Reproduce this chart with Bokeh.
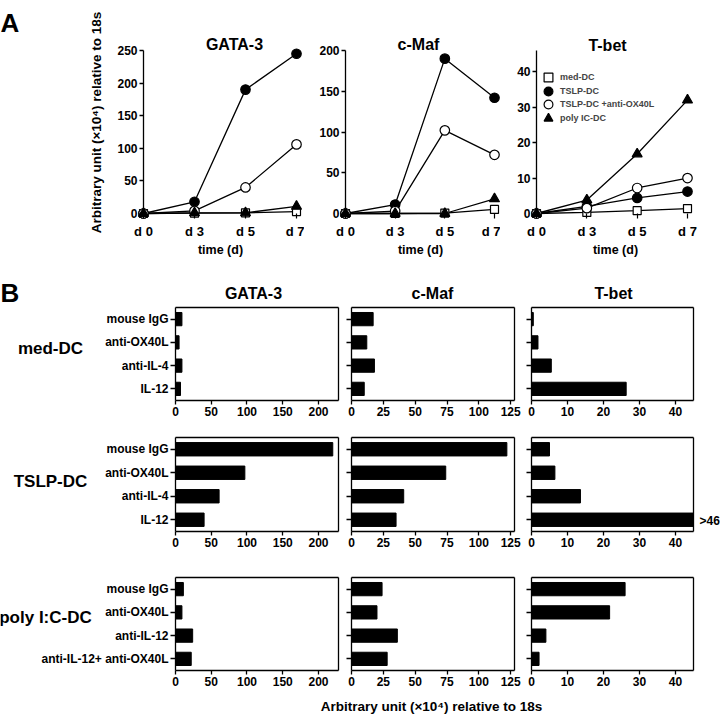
import math
from bokeh.plotting import figure
from bokeh.layouts import column, row
from bokeh.models import FixedTicker, Label, Legend, LegendItem, Range1d, LinearAxis
from bokeh.embed import file_html
from bokeh.resources import INLINE

FONT = "Liberation Sans"

# ---------------- Panel A data ----------------
days = ["d 0", "d 3", "d 5", "d 7"]
series_labels = ["med-DC", "TSLP-DC", "TSLP-DC +anti-OX40L", "poly IC-DC"]

gata3_med_dc = [0, 0.5, 1, 3]
gata3_tslp_dc = [0, 18, 190, 245]
gata3_tslp_dc_ox40l = [0, 4, 40, 106]
gata3_polyic_dc = [0, 1, 1, 11]

cmaf_med_dc = [0, 0, 0.5, 5]
cmaf_tslp_dc = [0, 11, 190, 142]
cmaf_tslp_dc_ox40l = [0, 3, 102, 72]
cmaf_polyic_dc = [0, 0, 0, 18]

tbet_med_dc = [0, 0.3, 0.8, 1.4]
tbet_tslp_dc = [0, 2, 4.4, 6.2]
tbet_tslp_dc_ox40l = [0, 1.5, 7.2, 10]
tbet_polyic_dc = [0, 3.8, 16.8, 32]

gata3_yticks = [0, 50, 100, 150, 200, 250]
cmaf_yticks = [0, 50, 100, 150, 200]
tbet_yticks = [0, 10, 20, 30, 40]
gata3_ytop = 250
cmaf_ytop = 200
tbet_ytop = 46

# ---------------- Panel B data ----------------
genes = ["GATA-3", "c-Maf", "T-bet"]
dc_types = ["med-DC", "TSLP-DC", "poly I:C-DC"]
med_dc_conditions = ["mouse IgG", "anti-OX40L", "anti-IL-4", "IL-12"]
tslp_dc_conditions = ["mouse IgG", "anti-OX40L", "anti-IL-4", "IL-12"]
polyic_dc_conditions = ["mouse IgG", "anti-OX40L", "anti-IL-12", "anti-IL-12+ anti-OX40L"]

med_dc_gata3 = [9, 5, 9, 7]
med_dc_cmaf = [17, 12, 18, 10]
med_dc_tbet = [0.5, 1.8, 5.5, 26.3]
tslp_dc_gata3 = [220, 97, 61, 40]
tslp_dc_cmaf = [122, 74, 41, 35]
tslp_dc_tbet = [5, 6.5, 13.6, 46]
polyic_dc_gata3 = [11, 9, 24, 22]
polyic_dc_cmaf = [24, 20, 36, 28]
polyic_dc_tbet = [26, 21.7, 4, 2.1]

gata3_xticks = [0, 50, 100, 150, 200]
cmaf_xticks = [0, 25, 50, 75, 100, 125]
tbet_xticks = [0, 10, 20, 30, 40]
gata3_xmax = 228
cmaf_xmax = 128
tbet_xmax = 45
tbet_overflow_label = ">46"
axis_title = "Arbitrary unit (\u00d710\u2074) relative to 18s"

# ---------------- helpers ----------------
def full_fig(x0, x1, y0, y1, x_range, y_range):
    """Figure whose frame fills its whole box (page pixels x0..x1, y0..y1)."""
    p = figure(frame_width=x1 - x0, frame_height=y1 - y0,
               min_border_left=0, min_border_right=0,
               min_border_top=0, min_border_bottom=0,
               x_range=x_range, y_range=y_range,
               output_backend="svg", toolbar_location=None)
    p.grid.visible = False
    p.outline_line_color = None
    p.background_fill_color = "white"
    p.border_fill_color = "white"
    return p


def page_label(fig, box, text, px, py, size, align="center",
               baseline="middle", angle=0.0):
    x0, y1 = box
    fig.add_layout(Label(x=px - x0, y=y1 - py, x_units="screen", y_units="screen",
                         text=text, text_font=FONT, text_font_size=f"{size}px",
                         text_font_style="bold", text_color="black",
                         text_align=align, text_baseline=baseline, angle=angle))


def style_labels(ax, size):
    ax.major_label_text_font = FONT
    ax.major_label_text_font_style = "bold"
    ax.major_label_text_font_size = f"{size}px"
    ax.major_label_text_color = "black"


def style_axis(ax, tick_out, standoff, width=1.3):
    ax.axis_line_width = width
    ax.major_tick_line_width = width
    ax.major_tick_out = tick_out
    ax.major_tick_in = 0
    ax.minor_tick_out = 0
    ax.minor_tick_in = 0
    ax.major_label_standoff = standoff


# ---------------- Panel A ----------------
A_Y0, A_Y1 = 0, 262
A_ZERO, A_AXTOP = 213, 50

marker_styles = [
    dict(marker="square", size=8, fill_color="white"),
    dict(marker="circle", size=9.5, fill_color="black"),
    dict(marker="circle", size=9.5, fill_color="white"),
    dict(marker="triangle", size=10, fill_color="black"),
]


def line_panel(series, yticks, ytop, fx0, fx1, x_first, x_last):
    nseg = len(days) - 1
    px_x = (x_last - x_first) / nseg
    px_y = (A_ZERO - A_AXTOP) / ytop
    xr = Range1d((fx0 - x_first) / px_x, (fx1 - x_first) / px_x)
    yr = Range1d((A_ZERO - A_Y1) / px_y, (A_ZERO - A_Y0) / px_y)
    p = full_fig(fx0, fx1, A_Y0, A_Y1, xr, yr)
    xs = list(range(len(days)))
    scat = []
    for ys in series:
        p.line(xs, ys, line_color="black", line_width=1.3)
    for ys, st in zip(series, marker_styles):
        scat.append(p.scatter(xs, ys, line_color="black", line_width=1.2, **st))
    ya = p.yaxis[0]
    ya.fixed_location = 0
    ya.bounds = (0, ytop)
    ya.ticker = FixedTicker(ticks=yticks)
    style_axis(ya, 4, 2)
    style_labels(ya, 12)
    xa = p.xaxis[0]
    xa.fixed_location = 0
    xa.bounds = (0, nseg)
    xa.ticker = FixedTicker(ticks=xs)
    xa.major_label_overrides = {i: d for i, d in enumerate(days)}
    style_axis(xa, 5, 5, 1.2)
    xa.axis_line_color = None
    style_labels(xa, 13)
    return p, scat


a1, _ = line_panel([gata3_med_dc, gata3_tslp_dc, gata3_tslp_dc_ox40l, gata3_polyic_dc],
                   gata3_yticks, gata3_ytop, 0, 304, 143, 296)
a2, _ = line_panel([cmaf_med_dc, cmaf_tslp_dc, cmaf_tslp_dc_ox40l, cmaf_polyic_dc],
                   cmaf_yticks, cmaf_ytop, 304, 500, 345, 494)
a3, a3_scat = line_panel([tbet_med_dc, tbet_tslp_dc, tbet_tslp_dc_ox40l, tbet_polyic_dc],
                         tbet_yticks, tbet_ytop, 500, 720, 536, 687)

legend_rows = [77, 90.5, 104, 117.5]
for lab, r, cy in zip(series_labels, a3_scat, legend_rows):
    lg = Legend(items=[LegendItem(label=lab, renderers=[r])],
                location=(537 - 500, A_Y1 - cy - 11), glyph_width=22, glyph_height=22,
                spacing=0, label_standoff=1, padding=0, margin=0, label_height=22,
                label_text_font=FONT, label_text_font_style="bold",
                label_text_font_size="9px", border_line_color=None,
                background_fill_alpha=0)
    a3.add_layout(lg)

b1 = (0, A_Y1)
b2 = (304, A_Y1)
b3 = (500, A_Y1)
page_label(a1, b1, "A", 0, 22, 26, align="left", baseline="alphabetic")
page_label(a1, b1, genes[0], 234, 44, 16, baseline="alphabetic")
page_label(a2, b2, genes[1], 418, 44, 16, baseline="alphabetic")
page_label(a3, b3, genes[2], 607, 45, 16, baseline="alphabetic")
page_label(a1, b1, axis_title, 96, 122, 13.5, angle=math.pi / 2)
page_label(a1, b1, "time (d)", 220, 249, 12.5)
page_label(a2, b2, "time (d)", 420, 249, 12.5)
page_label(a3, b3, "time (d)", 615, 249, 12.5)

row_a = row(a1, a2, a3)

# ---------------- Panel B ----------------
col_geom = [  # fig x0, box left, box right, fig x1
    (0, 175, 338, 344),
    (344, 351, 514, 523),
    (523, 531, 693, 720),
]
row_geom = [  # fig y0, box top, box bottom, fig y1
    (262, 307, 400, 421),
    (421, 437, 531, 552),
    (552, 577, 670, 692),
]
xmaxes = [gata3_xmax, cmaf_xmax, tbet_xmax]
xtick_sets = [gata3_xticks, cmaf_xticks, tbet_xticks]
conditions_by_row = [med_dc_conditions, tslp_dc_conditions, polyic_dc_conditions]
values_by_row = [
    [med_dc_gata3, med_dc_cmaf, med_dc_tbet],
    [tslp_dc_gata3, tslp_dc_cmaf, tslp_dc_tbet],
    [polyic_dc_gata3, polyic_dc_cmaf, polyic_dc_tbet],
]


def bar_panel(conds, vals, xmax, xticks, cg, rg, show_labels):
    fx0, bx0, bx1, fx1 = cg
    fy0, by0, by1, fy1 = rg
    n = len(conds)
    pos = [n - 1 - i for i in range(n)]
    top_val = n - 0.5
    px_x = (bx1 - bx0) / xmax
    px_y = (by1 - by0) / n
    xr = Range1d((fx0 - bx0) / px_x, (fx1 - bx0) / px_x)
    yr = Range1d(top_val - (fy1 - by0) / px_y, top_val - (fy0 - by0) / px_y)
    p = full_fig(fx0, fx1, fy0, fy1, xr, yr)
    # bars beyond the axis end are cut at the axis end, as in the original
    p.hbar(y=pos, right=[min(v, xmax) for v in vals], left=0, height=0.57,
           fill_color="black", line_color="black")
    xa = p.xaxis[0]
    xa.fixed_location = -0.5
    xa.bounds = (0, xmax)
    xa.ticker = FixedTicker(ticks=xticks)
    style_axis(xa, 4, 2)
    style_labels(xa, 12)
    ya = p.yaxis[0]
    ya.fixed_location = 0
    ya.bounds = (-0.5, top_val)
    ya.ticker = FixedTicker(ticks=pos)
    ya.major_label_overrides = {q: c for q, c in zip(pos, conds)}
    style_axis(ya, 5, 2)
    style_labels(ya, 12)
    if not show_labels:
        ya.major_label_text_color = None
    right = LinearAxis(fixed_location=xmax, bounds=(-0.5, top_val),
                       ticker=FixedTicker(ticks=[]), axis_line_width=1.3)
    p.add_layout(right, "right")
    top = LinearAxis(fixed_location=top_val, bounds=(0, xmax),
                     ticker=FixedTicker(ticks=[]), axis_line_width=1.3)
    p.add_layout(top, "above")
    return p


b_figs = []
for ri, rg in enumerate(row_geom):
    figs_row = []
    for ci, cg in enumerate(col_geom):
        figs_row.append(bar_panel(conditions_by_row[ri], values_by_row[ri][ci],
                                  xmaxes[ci], xtick_sets[ci], cg, rg, ci == 0))
    b_figs.append(figs_row)

row1_y1 = row_geom[0][3]
page_label(b_figs[0][0], (0, row1_y1), "B", 0, 292, 26, align="left", baseline="alphabetic")
page_label(b_figs[0][0], (0, row1_y1), genes[0], 253, 293, 16, baseline="alphabetic")
page_label(b_figs[0][1], (344, row1_y1), genes[1], 432, 293, 16, baseline="alphabetic")
page_label(b_figs[0][2], (523, row1_y1), genes[2], 613, 293, 16, baseline="alphabetic")
row_label_pos = [(50, 347.5), (50, 481), (45, 617)]
for ri, (lx, ly) in enumerate(row_label_pos):
    page_label(b_figs[ri][0], (0, row_geom[ri][3]), dc_types[ri], lx, ly, 17)
page_label(b_figs[1][2], (523, row_geom[1][3]), tbet_overflow_label, 699, 520, 12, align="left")

# bottom axis title strip
strip = full_fig(0, 720, 692, 714, Range1d(0, 1), Range1d(0, 1))
strip.xaxis.visible = False
strip.yaxis.visible = False
page_label(strip, (0, 714), axis_title, 431, 706, 13.5)

layout = column(row_a, row(*b_figs[0]), row(*b_figs[1]), row(*b_figs[2]), strip)

open("out.html", "w").write(file_html(layout, INLINE))
